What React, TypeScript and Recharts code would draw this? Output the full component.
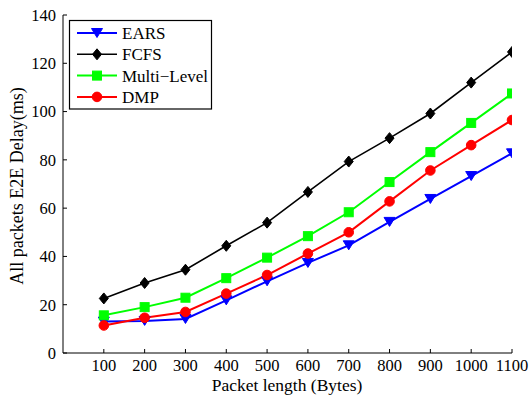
import React from 'react';
import { LineChart, Line, XAxis, YAxis } from 'recharts';

// packet length (Bytes) on x, all packets E2E delay (ms) on y
const packetLengths = [100, 200, 300, 400, 500, 600, 700, 800, 900, 1000, 1100];
const earsDelay = [13.0, 13.3, 14.1, 21.8, 29.7, 37.3, 44.6, 54.3, 63.8, 73.3, 82.7];
const fcfsDelay = [22.6, 29.0, 34.5, 44.4, 54.0, 66.7, 79.3, 89.0, 99.2, 112.0, 124.7];
const multiLevelDelay = [15.6, 19.0, 22.9, 31.0, 39.5, 48.4, 58.3, 70.8, 83.2, 95.3, 107.5];
const dmpDelay = [11.4, 14.6, 17.0, 24.6, 32.3, 41.2, 50.0, 62.8, 75.6, 86.1, 96.5];
const yTicks = [0, 20, 40, 60, 80, 100, 120, 140];

const FONT = '"Liberation Serif", "Times New Roman", serif';

type Shape = 'triangle' | 'diamond' | 'square' | 'circle';

const series: { key: string; name: string; color: string; shape: Shape; width: number }[] = [
  { key: 'ears', name: 'EARS', color: '#0000ff', shape: 'triangle', width: 2 },
  { key: 'fcfs', name: 'FCFS', color: '#000000', shape: 'diamond', width: 1.6 },
  { key: 'multi', name: 'Multi\u2212Level', color: '#00ff00', shape: 'square', width: 2 },
  { key: 'dmp', name: 'DMP', color: '#ff0000', shape: 'circle', width: 2 },
];

const data = packetLengths.map((len, i) => ({
  len,
  ears: earsDelay[i],
  fcfs: fcfsDelay[i],
  multi: multiLevelDelay[i],
  dmp: dmpDelay[i],
}));

const Marker = ({ shape, cx, cy, color }: { shape: Shape; cx: number; cy: number; color: string }) => {
  switch (shape) {
    case 'triangle':
      return (
        <polygon
          points={`${cx - 5.5},${cy - 4.5} ${cx + 5.5},${cy - 4.5} ${cx},${cy + 4.5}`}
          fill={color}
          stroke={color}
          strokeWidth={1}
        />
      );
    case 'diamond':
      return (
        <polygon
          points={`${cx},${cy - 5.5} ${cx + 4.5},${cy} ${cx},${cy + 5.5} ${cx - 4.5},${cy}`}
          fill={color}
          stroke={color}
          strokeWidth={1}
        />
      );
    case 'square':
      return <rect x={cx - 4.5} y={cy - 4.5} width={9} height={9} fill={color} stroke={color} strokeWidth={1} />;
    default:
      return <circle cx={cx} cy={cy} r={4.8} fill={color} stroke={color} strokeWidth={1} />;
  }
};

const tickStyle = { fill: '#000', fontSize: 16.5, fontFamily: FONT };

export default function App() {
  return (
    <div style={{ position: 'fixed', left: 0, top: 0, width: 530, height: 396, background: '#fff' }}>
      <LineChart width={530} height={396} data={data} margin={{ top: 15, right: 18, bottom: 0, left: 0 }}>
        <XAxis
          dataKey="len"
          type="number"
          domain={[0, 1100]}
          ticks={packetLengths}
          height={43}
          stroke="#000"
          tickSize={-4}
          tickMargin={10.5}
          tick={tickStyle}
          allowDataOverflow
        />
        <YAxis
          type="number"
          domain={[0, 140]}
          ticks={yTicks}
          width={63}
          stroke="#000"
          tickSize={-4}
          tickMargin={11}
          tick={tickStyle}
        />
        {series.map((s) => (
          <Line
            key={s.key}
            dataKey={s.key}
            name={s.name}
            type="linear"
            stroke={s.color}
            strokeWidth={s.width}
            isAnimationActive={false}
            dot={(p: any) => (
              <Marker key={`${s.key}-${p.index}`} shape={s.shape} cx={p.cx} cy={p.cy} color={s.color} />
            )}
            activeDot={false}
          />
        ))}
      </LineChart>

      {/* axis titles and legend box */}
      <svg
        width={530}
        height={396}
        style={{ position: 'absolute', left: 0, top: 0, pointerEvents: 'none', fontFamily: FONT }}
      >
        <text x={287} y={391} textAnchor="middle" fontSize={17.5} fill="#000">
          Packet length (Bytes)
        </text>
        <text x={23} y={186} textAnchor="middle" fontSize={18} fill="#000" transform="rotate(-90, 23, 186)">
          All packets E2E Delay(ms)
        </text>
        <rect x={69.5} y={20.5} width={142} height={88.5} fill="#fff" stroke="#000" strokeWidth={1.2} />
        {series.map((s, i) => {
          const y = 33 + i * 21.3;
          return (
            <g key={s.key}>
              <line x1={77} x2={117} y1={y} y2={y} stroke={s.color} strokeWidth={s.width} />
              <Marker shape={s.shape} cx={97} cy={y} color={s.color} />
              <text x={122} y={y + 6} fontSize={17} fill="#000">
                {s.name}
              </text>
            </g>
          );
        })}
      </svg>
    </div>
  );
}
